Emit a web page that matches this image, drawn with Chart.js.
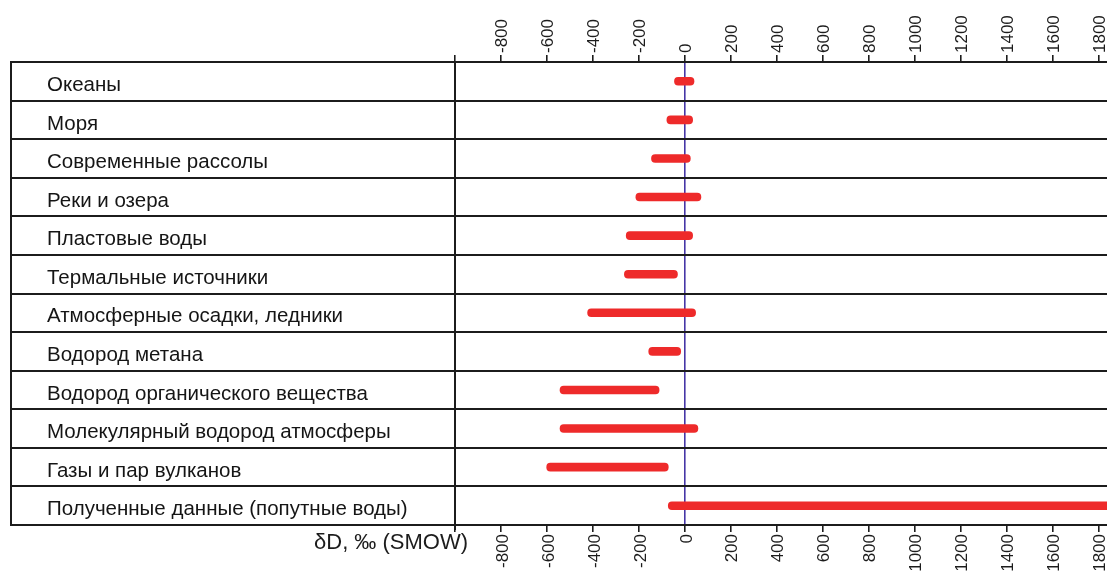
<!DOCTYPE html>
<html lang="ru">
<head>
<meta charset="utf-8">
<title>δD, ‰ (SMOW)</title>
<script src="https://cdn.jsdelivr.net/npm/chart.js@4/dist/chart.umd.min.js"></script>
<style>
  html, body { margin: 0; padding: 0; background: #ffffff; }
  #wrap { width: 1107px; height: 572px; }
</style>
</head>
<body>
<div id="wrap"><canvas id="chart" width="1107" height="572"></canvas></div>
<script>
// Water / hydrogen sources
const categories = [
  'Океаны',
  'Моря',
  'Современные рассолы',
  'Реки и озера',
  'Пластовые воды',
  'Термальные источники',
  'Атмосферные осадки, ледники',
  'Водород метана',
  'Водород органического вещества',
  'Молекулярный водород атмосферы',
  'Газы и пар вулканов',
  'Полученные данные (попутные воды)'
];

// δD range of each source, ‰ SMOW
const lowValues  = [-45, -78, -145, -213, -255, -263, -423, -157, -543, -543, -601, -72];
const highValues = [ 40,  34,   24,   70,   34,  -32,   47,  -18, -112,   57,  -72, 2000];

// Axis tick labels
const tickValues = [-800, -600, -400, -200, 0, 200, 400, 600, 800, 1000, 1200, 1400, 1600, 1800];
const axisMin = -1000;
const axisMax = 1837;
const axisTitle = 'δD, ‰ (SMOW)';

const FONT = "'Liberation Sans', Arial, sans-serif";
const INK = '#1c1c1c';
const ZERO_LINE = '#4636a6';
const BAR_RED = '#ee2a2a';

const ranges = categories.map((_, i) => [lowValues[i], highValues[i]]);

function valueAxis(position, height, labelShift) {
  return {
    type: 'linear',
    position: position,
    min: axisMin,
    max: axisMax,
    afterBuildTicks: (scale) => {
      scale.ticks = [axisMin].concat(tickValues).map(v => ({ value: v }));
    },
    afterFit: (scale) => {
      scale.height = height;
      scale.paddingLeft = 0;
      scale.paddingRight = 0;
    },
    ticks: {
      autoSkip: false,
      minRotation: 90,
      maxRotation: 90,
      padding: 2,
      labelOffset: labelShift,
      color: INK,
      font: { family: FONT, size: 17 },
      callback: (v) => (v === axisMin ? '' : String(v))
    },
    grid: {
      drawOnChartArea: position === 'top',
      color: (ctx) => (ctx.tick && ctx.tick.value === 0 ? ZERO_LINE : 'rgba(0,0,0,0)'),
      tickColor: INK,
      tickLength: 7,
      lineWidth: 1.6
    },
    border: { display: true, color: INK, width: 2 }
  };
}

// Left edge of the label column and the axis title below it
const frameDecor = {
  id: 'frameDecor',
  afterDraw(chart) {
    const ctx = chart.ctx;
    const y = chart.scales.y;
    ctx.save();
    ctx.strokeStyle = INK;
    ctx.lineWidth = 2;
    ctx.beginPath();
    ctx.moveTo(11, y.top - 1);
    ctx.lineTo(11, y.bottom + 1);
    ctx.stroke();
    ctx.beginPath();
    ctx.moveTo(chart.chartArea.left, y.bottom);
    ctx.lineTo(chart.chartArea.left, y.bottom + 5);
    ctx.stroke();
    ctx.fillStyle = INK;
    ctx.font = '22px ' + FONT;
    ctx.textAlign = 'right';
    ctx.textBaseline = 'alphabetic';
    ctx.fillText(axisTitle, 468, 549);
    ctx.restore();
  }
};

new Chart(document.getElementById('chart'), {
  type: 'bar',
  data: {
    labels: categories,
    datasets: [{
      data: ranges,
      xAxisID: 'x',
      yAxisID: 'y',
      backgroundColor: BAR_RED,
      borderWidth: 0,
      borderSkipped: false,
      borderRadius: 4,
      barThickness: 8
    }]
  },
  options: {
    indexAxis: 'y',
    responsive: false,
    animation: false,
    devicePixelRatio: 1,
    layout: { padding: { left: 47, right: 0, top: 0, bottom: 0 } },
    plugins: {
      legend: { display: false },
      tooltip: { enabled: false },
      title: { display: false }
    },
    scales: {
      x: valueAxis('top', 62, 22),
      x2: valueAxis('bottom', 47, 2),
      y: {
        type: 'category',
        position: 'left',
        offset: true,
        afterFit: (scale) => { scale.width = 408; },
        ticks: {
          crossAlign: 'far',
          labelOffset: 4,
          color: '#151515',
          font: { family: FONT, size: 20.5 }
        },
        grid: {
          offset: true,
          color: INK,
          lineWidth: 2,
          tickLength: 445
        },
        border: { display: true, color: INK, width: 2 }
      }
    }
  },
  plugins: [frameDecor]
});
</script>
</body>
</html>
